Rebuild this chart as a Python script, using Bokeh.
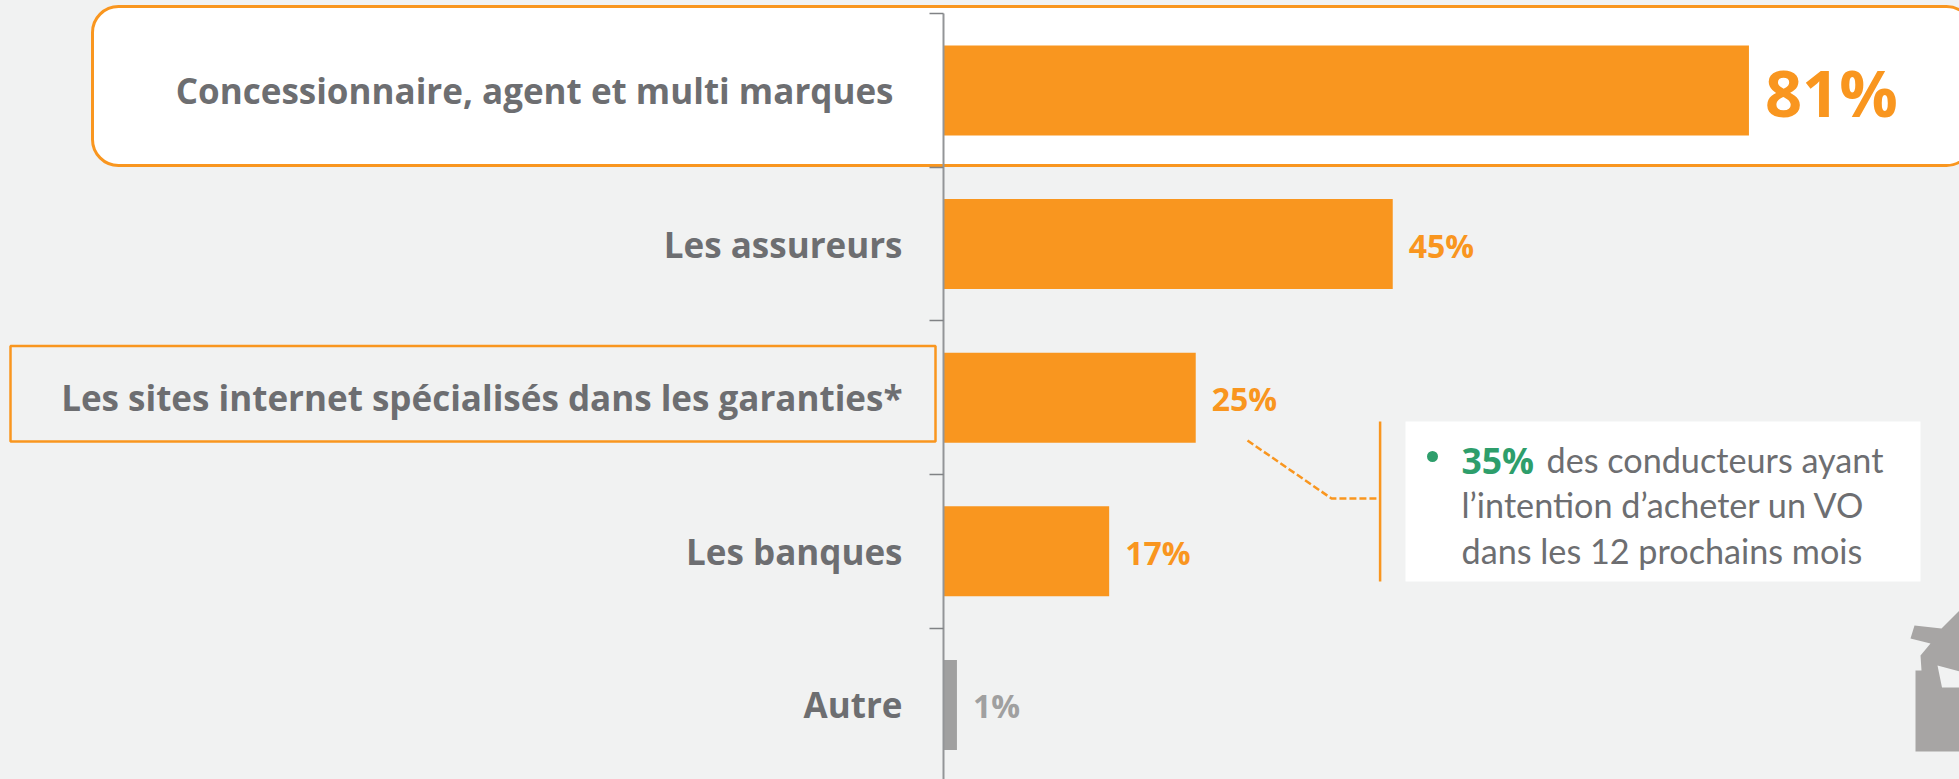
from bokeh.plotting import figure
from bokeh.models import Range1d, LinearAxis, FixedTicker, BoxAnnotation, ColumnDataSource
from bokeh.core.properties import value
from bokeh.embed import file_html
from bokeh.resources import INLINE

# ---- data ----
categories = ["Concessionnaire, agent et multi marques", "Les assureurs",
              "Les sites internet spécialisés dans les garanties*", "Les banques", "Autre"]
values = [81, 45.2, 25.4, 16.7, 1.4]
value_labels = ["81%", "45%", "25%", "17%", "1%"]
note_highlight = "35%"
note_lines = ["des conducteurs ayant", "l’intention d’acheter un VO", "dans les 12 prochains mois"]

# ---- styles ----
BG, ORANGE, GREY_BAR, GREY_TXT, GREEN, ICON = "#f1f2f2", "#f9961f", "#a0a0a0", "#6d6e71", "#2e9e6b", "#a7a5a4"
W, H = 1959, 779
X0, PX_PER_PCT, Y0, ROW = 942.5, 9.95, 90.0, 153.6

p = figure(width=W, height=H, output_backend="svg", toolbar_location=None,
           x_range=Range1d((0 - X0) / PX_PER_PCT, (W - X0) / PX_PER_PCT),
           y_range=Range1d((H - Y0) / ROW, (0 - Y0) / ROW),
           min_border=0, background_fill_color=BG, border_fill_color=BG, outline_line_color=None)
p.extra_x_ranges["px"] = Range1d(0, W)
p.extra_y_ranges["px"] = Range1d(H, 0)
p.xaxis.visible = False
p.yaxis.visible = False
p.grid.visible = False

# highlight boxes (absolute page pixels through the "px" ranges)
p.add_layout(BoxAnnotation(left=92, right=1972, top=6, bottom=165, x_range_name="px", y_range_name="px",
                           fill_color="white", fill_alpha=1, line_color=ORANGE, line_alpha=1, line_width=3,
                           border_radius=26, level="underlay"))
p.add_layout(BoxAnnotation(left=10, right=935, top=345.5, bottom=441, x_range_name="px", y_range_name="px",
                           fill_alpha=0, line_color=ORANGE, line_alpha=1, line_width=2.5, level="underlay"))

# axis
n = len(categories)
ax = LinearAxis(fixed_location=0, ticker=FixedTicker(ticks=[i - 0.5 for i in range(n + 1)]),
                major_label_text_font_size="0px", major_label_text_color=None,
                minor_tick_line_color=None, major_tick_in=0, major_tick_out=14,
                major_tick_line_color="#808285", major_tick_line_width=1.5,
                axis_line_color="#939598", axis_line_width=2, bounds=(-0.5, n))
p.add_layout(ax, "left")

# bars + labels
src = ColumnDataSource(dict(
    y=list(range(n)), v=values, cat=categories, lab=value_labels,
    color=[GREY_BAR if c == "Autre" else ORANGE for c in categories],
    cat_off=[-49.5 if i == 0 else -40.5 for i in range(n)],
    lab_size=["65px" if i == 0 else "32px" for i in range(n)],
))
p.hbar(y="y", left=0, right="v", height=90 / ROW, source=src, fill_color="color", line_color=None)
p.text(x=0, y="y", text="cat", source=src, x_offset="cat_off", y_offset=0, text_align="right",
       text_baseline="middle", text_font=value("Open Sans"), text_font_style="bold", text_font_size="35px",
       text_color=GREY_TXT)
p.text(x="v", y="y", text="lab", source=src, x_offset=16, y_offset=1, text_align="left",
       text_baseline="middle", text_font=value("Open Sans"), text_font_style="bold", text_font_size="lab_size",
       text_color="color")

# callout
kw = dict(x_range_name="px", y_range_name="px")
p.quad(left=[1405], right=[1920], top=[421], bottom=[581], fill_color="white", line_color=None, **kw)
p.line([1379.6, 1379.6], [421, 581], line_color=ORANGE, line_width=2.5, **kw)
p.line([1247, 1331, 1380], [440, 498, 498], line_color=ORANGE, line_width=2.5, line_dash="7 3", **kw)
txt = dict(text_baseline="middle", **kw)
p.scatter([1432], [456], size=11, marker="circle", fill_color=GREEN, line_color=None, **kw)
p.text([1461], [459], text=[note_highlight], text_color=GREEN, text_font=value("Open Sans"),
       text_font_style="bold", text_font_size="35.5px", **txt)
p.text([1546], [459], text=[note_lines[0]], text_color=GREY_TXT, text_font=value("Lato"), text_font_size="34.2px", **txt)
p.text([1461], [504], text=[note_lines[1]], text_color=GREY_TXT, text_font=value("Lato"), text_font_size="34.2px", **txt)
p.text([1461], [550], text=[note_lines[2]], text_color=GREY_TXT, text_font=value("Lato"), text_font_size="34.2px", **txt)

# cropped grey icon at the right edge
p.patch([1959, 1941, 1914, 1910, 1930, 1920, 1921, 1915, 1915, 1959, 1959, 1941.5, 1937, 1959],
        [610, 628, 625, 638, 643, 655, 670, 670, 751, 751, 687, 687, 665, 671],
        fill_color=ICON, line_color=None, **kw)

html = file_html(p, INLINE).replace(
    "<head>", f"<head><style>html,body{{background:{BG};overflow:hidden}}</style>", 1)
open("out.html", "w").write(html)
